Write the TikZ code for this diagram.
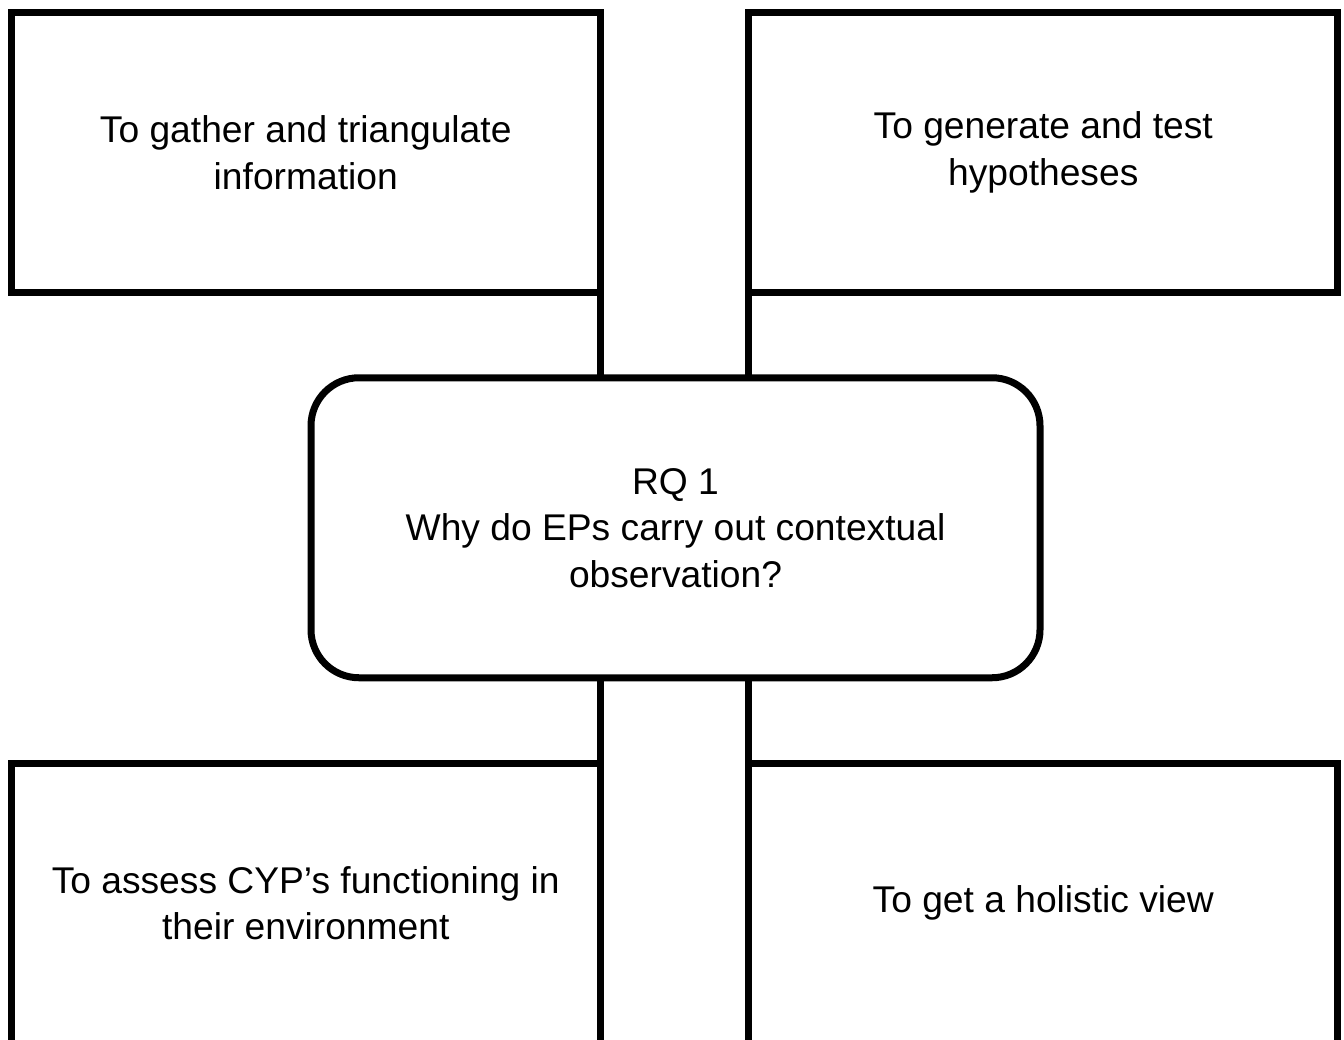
\documentclass[tikz,border=0pt]{standalone}
\usepackage{fontspec}
\setmainfont{Liberation Sans}
\usetikzlibrary{positioning}
\usetikzlibrary{calc}

\begin{document}
\begin{tikzpicture}[
                x=1pt, y=-1pt,
                line width=7pt,
                node distance=148.7pt,
                every node/.style={
                        font=\fontsize{37.2}{46.5}\selectfont,
                        align=center,
                        inner sep=0pt,
                        outer sep=0pt
                    },
                aimbox/.style={
                        draw,
                        rectangle,
                        minimum width=588.8pt,
                        minimum height=280pt
                    },
                rqbox/.style={
                        draw,
                        rounded corners=48pt,
                        minimum width=729pt,
                        minimum height=300pt
                    }
            ]

            \useasboundingbox (0,0) rectangle (1344,1039);

            % Aim boxes
            \node[aimbox] (gather) at (305.75,152.5) {To gather and triangulate\\information};
            \node[aimbox, right=of gather] (hypo) {To generate and test\\hypotheses};
            \node[aimbox] (assess) at (305.75,903) {To assess CYP’s functioning in\\their environment};
            \node[aimbox, right=of assess] (holistic) {To get a holistic view};

            % Research question
            \node[rqbox] (rq) at (675.5,527.75) {RQ 1\\Why do EPs carry out contextual\\observation?};

            % Connectors
            \draw (gather.south east) -- (gather.south east |- rq.north);
            \draw (hypo.south west) -- (hypo.south west |- rq.north);
            \draw (assess.north east |- rq.south) -- (assess.north east);
            \draw (holistic.north west |- rq.south) -- (holistic.north west);

        \end{tikzpicture}
\end{document}
